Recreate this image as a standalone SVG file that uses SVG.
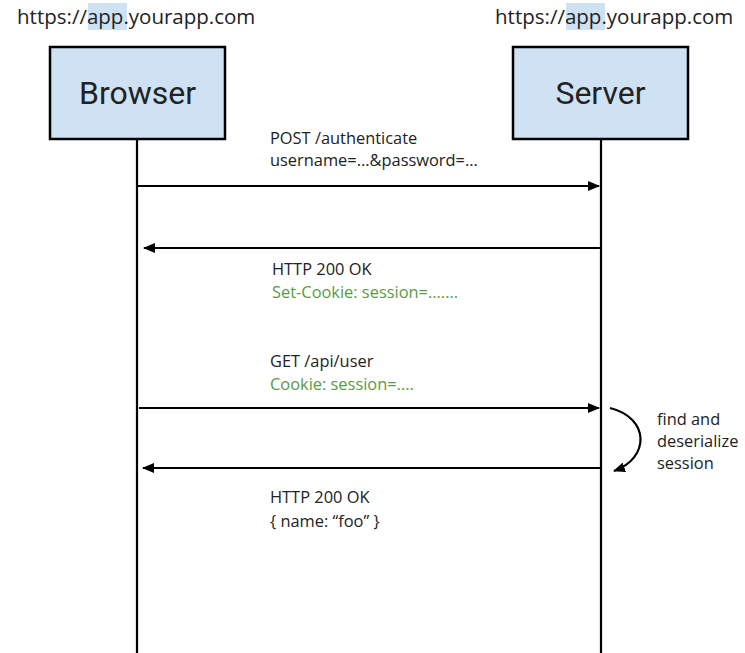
<svg xmlns="http://www.w3.org/2000/svg" width="745" height="653" viewBox="0 0 745 653">
  <style>
    .url { font-family: "Open Sans", "Noto Sans", sans-serif; font-size: 20.5px; fill: #222; }
    .hl { fill: #cfe2f3; }
    .box { fill: #cfe2f3; stroke: #000; stroke-width: 2.5; }
    .title { font-family: Roboto, "Liberation Sans", sans-serif; font-size: 32px; fill: #222; text-anchor: middle; }
    .life { stroke: #000; stroke-width: 2.2; fill: none; }
    .msg { stroke: #000; stroke-width: 2.2; fill: none; marker-end: url(#arrow); }
    .lbl { font-family: "Open Sans", "Noto Sans", sans-serif; font-size: 16.4px; fill: #222; }
    .green { fill: #5b9a47; }
  </style>
  <defs>
    <marker id="arrow" viewBox="0 0 12 10" refX="11" refY="5" markerWidth="12" markerHeight="10" markerUnits="userSpaceOnUse" orient="auto">
      <path d="M0,0 L12,5 L0,10 Z" fill="#000"/>
    </marker>
  </defs>
  <rect width="745" height="653" fill="#fff"/>

  <!-- origin labels with the subdomain highlighted -->
  <g id="browser-origin">
    <rect class="hl" x="88" y="3" width="39" height="27"/>
    <text class="url" x="17" y="24">https://app.yourapp.com</text>
  </g>
  <g id="server-origin">
    <rect class="hl" x="566" y="3" width="39" height="27"/>
    <text class="url" x="495" y="24">https://app.yourapp.com</text>
  </g>

  <!-- participants -->
  <g id="browser">
    <rect class="box" x="50" y="47" width="175" height="92"/>
    <text class="title" x="137.5" y="104">Browser</text>
  </g>
  <g id="server">
    <rect class="box" x="513" y="47" width="175" height="92"/>
    <text class="title" x="600.5" y="104">Server</text>
  </g>

  <!-- lifelines and messages -->
  <g id="connectors">
    <line class="life" x1="137" y1="139" x2="137" y2="653"/>
    <line class="life" x1="601" y1="139" x2="601" y2="653"/>
    <line class="msg" x1="137" y1="186" x2="599" y2="186"/>
    <line class="msg" x1="600" y1="248" x2="144" y2="248"/>
    <line class="msg" x1="139" y1="408" x2="599" y2="408"/>
    <line class="msg" x1="600" y1="468" x2="143" y2="468"/>
    <path class="msg" d="M610,408 C650,418 650,458 614,471"/>
  </g>

  <!-- message labels -->
  <g id="label-post">
    <text class="lbl" x="270" y="144">POST /authenticate</text>
    <text class="lbl" x="270" y="166">username=...&amp;password=...</text>
  </g>
  <g id="label-set-cookie">
    <text class="lbl" x="272" y="275">HTTP 200 OK</text>
    <text class="lbl green" x="272" y="298">Set-Cookie: session=.......</text>
  </g>
  <g id="label-get">
    <text class="lbl" x="270" y="367">GET /api/user</text>
    <text class="lbl green" x="270" y="390">Cookie: session=....</text>
  </g>
  <g id="label-user">
    <text class="lbl" x="270" y="503">HTTP 200 OK</text>
    <text class="lbl" x="270" y="527">{  name: “foo” }</text>
  </g>
  <g id="label-deserialize">
    <text class="lbl" x="657" y="425">find and</text>
    <text class="lbl" x="657" y="447">deserialize</text>
    <text class="lbl" x="657" y="469">session</text>
  </g>
</svg>
